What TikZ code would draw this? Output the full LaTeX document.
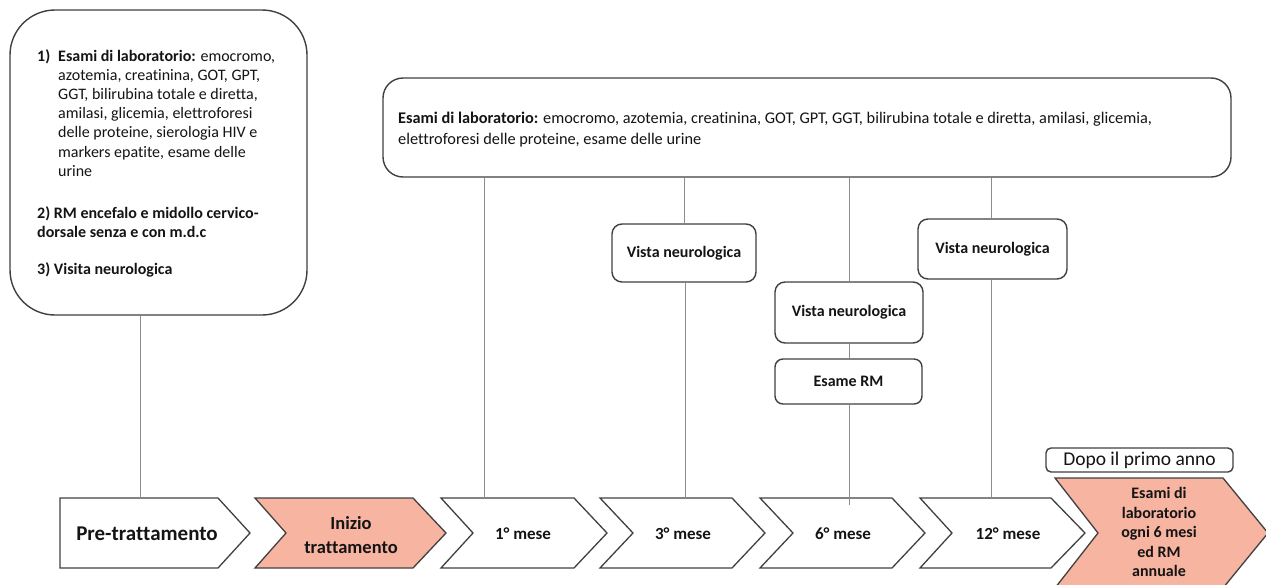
\documentclass[tikz,border=0pt]{standalone}
\usepackage{fontspec}
\setmainfont{Carlito}[Ligatures=NoCommon]
\definecolor{boxline}{RGB}{64,64,64}
\definecolor{linkgray}{RGB}{140,140,140}
\definecolor{salmon}{RGB}{247,180,160}
\definecolor{ink}{RGB}{20,20,20}
\newcommand\setfs[2]{\fontsize{#1}{#2}\selectfont}
\begin{document}
\begin{tikzpicture}[x=1pt,y=-1pt,
  box/.style={draw=boxline, line width=1.4pt, rounded corners=#1, fill=white,
    inner sep=0pt, text=ink, font=\setfs{16}{19.2}\bfseries},
  link/.style={draw=linkgray, line width=0.9pt},
  chev/.style={draw=boxline, line width=1.3pt, line join=miter},
  chevtext/.style={inner sep=0pt, align=center, text=ink, font=\setfs{17}{20}\bfseries},
  plain/.style={inner sep=0pt, text=ink}]
\useasboundingbox (0,0) rectangle (1266,584);

% ---- boxes above the timeline ----
\node[box=45pt, minimum width=297pt, minimum height=305pt] (prebox) at (158.5,162.5) {};
\node[plain, anchor=base west, font=\setfs{16}{19.2}] (item1) at (37,61)
  {\begin{tabular}[t]{@{}p{21pt}@{}l@{}}
   \textbf{1)} & \textbf{Esami di laboratorio:} emocromo,\\
   & azotemia, creatinina, GOT, GPT,\\
   & GGT, bilirubina totale e diretta,\\
   & amilasi, glicemia, elettroforesi\\
   & delle proteine, sierologia HIV e\\
   & markers epatite, esame delle\\
   & urine
  \end{tabular}};
\node[plain, anchor=base west, font=\setfs{16}{19.2}\bfseries] (item2) at (37,218)
  {\begin{tabular}[t]{@{}l@{}}
   2) RM encefalo e midollo cervico-\\
   dorsale senza e con m.d.c
  \end{tabular}};
\node[plain, anchor=base west, font=\setfs{16}{19.2}\bfseries] (item3) at (37,274)
  {3) Visita neurologica};

\node[box=20pt, minimum width=848pt, minimum height=99pt] (lab) at (807,127.5) {};
\node[plain, anchor=base west, font=\setfs{16.3}{21}] (labtext) at (398,123)
  {\begin{tabular}[t]{@{}l@{}}
   \textbf{Esami di laboratorio:} emocromo, azotemia, creatinina, GOT, GPT, GGT, bilirubina totale e diretta, amilasi, glicemia,\\
   elettroforesi delle proteine, esame delle urine
  \end{tabular}};

\node[box=10pt, minimum width=144pt, minimum height=58pt] (v3) at (684,253) {Vista neurologica};
\node[box=10pt, minimum width=148pt, minimum height=61pt] (v6) at (849,312.5) {Vista neurologica};
\node[box=8pt, minimum width=147pt, minimum height=45pt] (rm) at (848.5,381.5) {Esame RM};
\node[box=10pt, minimum width=149pt, minimum height=60pt] (v12) at (992.5,249) {Vista neurologica};
\node[box=5pt, minimum width=187pt, minimum height=24pt, font=\setfs{19.5}{22}] (dopo) at (1139.5,460) {Dopo il primo anno};

% ---- timeline ----
\draw[chev] (60,498) -- (218,498) -- (250,533) -- (218,568) -- (60,568) -- cycle;
\draw[chev, fill=salmon] (255,498) -- (413,498) -- (446,533) -- (413,568) -- (255,568) -- (286,533) -- cycle;
\draw[chev] (441,498) -- (574,498) -- (607,533) -- (574,568) -- (441,568) -- (473,533) -- cycle;
\draw[chev] (600,498) -- (732,498) -- (765,533) -- (732,568) -- (600,568) -- (633,533) -- cycle;
\draw[chev] (760,498) -- (892,498) -- (925,533) -- (892,568) -- (760,568) -- (793,533) -- cycle;
\draw[chev] (920,498) -- (1051,498) -- (1085,533) -- (1051,568) -- (920,568) -- (952,533) -- cycle;
\draw[chev, fill=salmon] (1055,478) -- (1223,478) -- (1268,533) -- (1223,588) -- (1055,588) -- (1098,533) -- cycle;

\node[chevtext, font=\setfs{21}{24}\bfseries] (pre) at (147,534) {Pre-trattamento};
\node[chevtext, font=\setfs{18.5}{24}\bfseries] (ini) at (351,535) {Inizio\\trattamento};
\node[chevtext] (m1) at (523,534) {1° mese};
\node[chevtext] (m3) at (683,534) {3° mese};
\node[chevtext] (m6) at (843,534) {6° mese};
\node[chevtext] (m12) at (1008,534) {12° mese};
\node[chevtext, font=\setfs{16}{19.5}\bfseries] (after) at (1159,532)
  {Esami di\\laboratorio\\ogni 6 mesi\\ed RM\\annuale};

% ---- connectors ----
\coordinate (pretop) at (140,498);
\coordinate (m1top) at (484,498);
\coordinate (m3top) at (685,498);
\coordinate (m6top) at (849,505);
\coordinate (m12top) at (991,498);
\draw[link] (prebox.south -| pretop) -- (pretop);
\draw[link] (lab.south -| m1top) -- (m1top);
\draw[link] (lab.south -| v3) -- (v3.north);
\draw[link] (v3.south -| m3top) -- (m3top);
\draw[link] (lab.south -| v6) -- (v6.north);
\draw[link] (v6.south) -- (rm.north -| v6.south);
\draw[link] (rm.south -| m6top) -- (m6top);
\draw[link] (lab.south -| m12top) -- (v12.north -| m12top);
\draw[link] (v12.south -| m12top) -- (m12top);
\end{tikzpicture}
\end{document}
